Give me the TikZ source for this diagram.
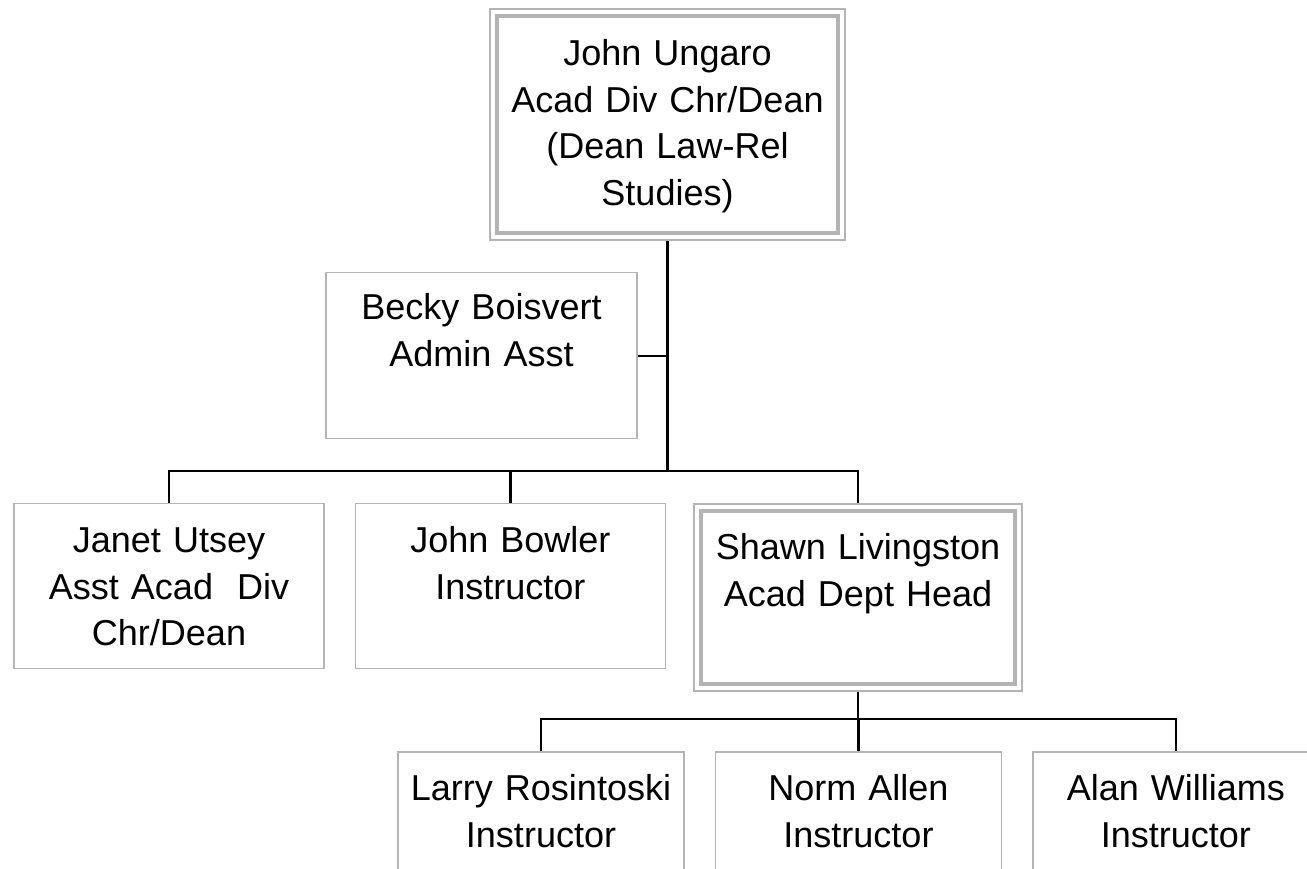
\documentclass[tikz,border=0pt]{standalone}
\usepackage{fontspec}
\setmainfont{Liberation Sans}
\usetikzlibrary{positioning,fit}
\definecolor{framegray}{RGB}{180,180,180}

\begin{document}
\begin{tikzpicture}[x=0.02cm,y=-0.02cm,
  person/.style={draw=framegray,line width=0.85pt,inner sep=0pt,align=center,
    text width=6.2cm,text height=0.98cm,text depth=2.32cm,
    font=\fontsize{20.5}{26.4}\selectfont},
  head/.style={person,line width=2.2pt},
  outerframe/.style={draw=framegray,line width=0.85pt,inner sep=0.1cm},
  link/.style={draw=black,line width=1.3pt}]
\useasboundingbox (0,0) rectangle (1307,868);

% dean and his assistant
\node[head,text width=6.82cm,text height=1.0cm,text depth=3.34cm,anchor=north] (dean) at (667.5,14)
  {John Ungaro\\Acad Div Chr/Dean\\(Dean Law-Rel\\Studies)};
\node[outerframe,fit=(dean)] (deanframe) {};
\node[person,text width=6.22cm,text height=0.94cm,text depth=2.38cm,anchor=north] (becky) at (481.5,272)
  {Becky Boisvert\\Admin Asst};

% second row
\node[person,anchor=north] (janet) at (169,503) {Janet Utsey\\Asst Acad\ \ Div\\Chr/Dean};
\node[person] (bowler) [right=0.6cm of janet] {John Bowler\\Instructor};
\node[head,text width=6.28cm,text depth=2.48cm,anchor=north] (shawn) at (858,509)
  {Shawn Livingston\\Acad Dept Head};
\node[outerframe,fit=(shawn)] (shawnframe) {};

% third row
\node[person,text width=5.72cm,anchor=north] (larry) at (541,751) {Larry Rosintoski\\Instructor};
\node[person,text width=5.72cm] (norm) [right=0.6cm of larry] {Norm Allen\\Instructor};
\node[person,text width=5.72cm] (alan) [right=0.6cm of norm] {Alan Williams\\Instructor};

% connectors
\coordinate (topbus) at (667.5,471);
\coordinate (subbus) at (858,719);
\draw[link] (deanframe.south) -- (topbus);
\draw[link] (becky.east) -- (becky.east -| deanframe.south);
\draw[link] (janet.north) |- (topbus) -| (shawnframe.north);
\draw[link] (bowler.north) -- (bowler.north |- topbus);
\draw[link] (shawnframe.south) -- (subbus);
\draw[link] (larry.north) |- (subbus) -| (alan.north);
\draw[link] (norm.north) -- (norm.north |- subbus);
\end{tikzpicture}
\end{document}
